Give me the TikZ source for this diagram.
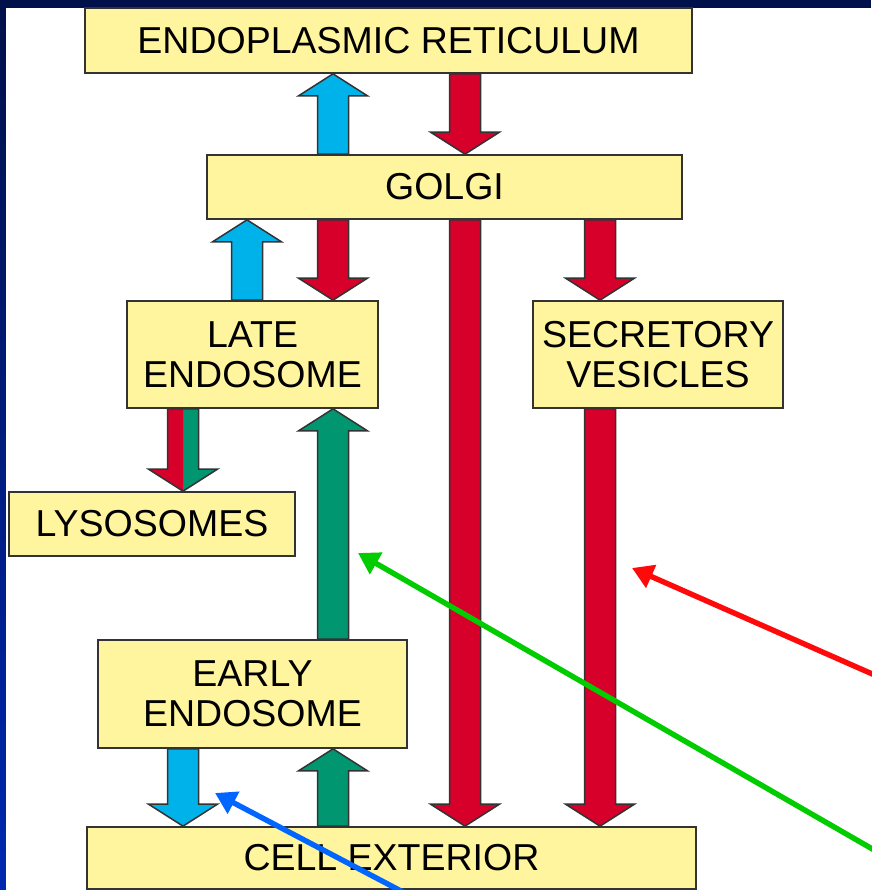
\documentclass[tikz,border=0pt]{standalone}
\usepackage{fontspec}
\setmainfont{Liberation Sans}
\usetikzlibrary{arrows.meta,calc}
\definecolor{navyframe}{HTML}{00104A}
\definecolor{navyblue}{HTML}{0028B0}
\definecolor{boxyellow}{HTML}{FFF59E}
\definecolor{edgegray}{HTML}{333333}
\definecolor{redflow}{HTML}{D6002A}
\definecolor{blueflow}{HTML}{00B2EA}
\definecolor{greenflow}{HTML}{009670}
\definecolor{redptr}{HTML}{FF0A0A}
\definecolor{greenptr}{HTML}{00CC00}
\definecolor{blueptr}{HTML}{0066FF}
% block arrow outline from #1 to #2 (vertical)
\newcommand{\blockpath}[2]{($(#1)+(-15.5,0)$) -- ($(#2)!22pt!(#1)+(-15.5,0)$) -- ($(#2)!22pt!(#1)+(-34.5,0)$) -- (#2) -- ($(#2)!22pt!(#1)+(34.5,0)$) -- ($(#2)!22pt!(#1)+(15.5,0)$) -- ($(#1)+(15.5,0)$) -- cycle}
\tikzset{
  organelle/.style={draw=edgegray, line width=1.7pt, fill=boxyellow, align=center, inner sep=0pt, font=\fontsize{37.5}{40}\selectfont},
  flowline/.style={draw=edgegray, line width=1.5pt, line join=miter},
  redblock/.style={flowline, fill=redflow},
  blueblock/.style={flowline, fill=blueflow},
  greenblock/.style={flowline, fill=greenflow},
  pointer/.style={line width=5.4pt, -{Triangle[length=21pt,width=24pt]}}
}
\begin{document}
\begin{tikzpicture}[x=1pt,y=-1pt]
  \useasboundingbox (0,0) rectangle (871,890);
  \fill[navyframe] (0,0) rectangle (871,890);
  \shade[top color=navyframe, bottom color=navyblue] (0,8) rectangle (6,890);
  \fill[white] (6,8) rectangle (871,890);

  % organelles
  \node[organelle, minimum width=607, minimum height=65] (er) at (388.5,40.5) {ENDOPLASMIC RETICULUM};
  \node[organelle, minimum width=475, minimum height=64] (golgi) at (444.5,187) {GOLGI};
  \node[organelle, minimum width=251, minimum height=107] (late) at (252.5,354.5) {LATE\\ENDOSOME};
  \node[organelle, minimum width=250, minimum height=107] (secretory) at (658,354.5) {SECRETORY\\VESICLES};
  \node[organelle, minimum width=286, minimum height=64] (lyso) at (152,524) {LYSOSOMES};
  \node[organelle, minimum width=309, minimum height=108] (early) at (252.5,694) {EARLY\\ENDOSOME};
  \node[organelle, minimum width=609, minimum height=62] (exterior) at (391.5,858) {CELL EXTERIOR};

  % arrow columns
  \coordinate (colA) at (183,0);
  \coordinate (colB) at (247,0);
  \coordinate (colC) at (333,0);
  \coordinate (colD) at (465,0);
  \coordinate (colE) at (600,0);

  \draw[blueblock] \blockpath{colC |- golgi.north}{colC |- er.south};
  \draw[redblock] \blockpath{colD |- er.south}{colD |- golgi.north};
  \draw[blueblock] \blockpath{colB |- late.north}{colB |- golgi.south};
  \draw[redblock] \blockpath{colC |- golgi.south}{colC |- late.north};
  \draw[redblock] \blockpath{colE |- golgi.south}{colE |- secretory.north};
  \draw[redblock] \blockpath{colD |- golgi.south}{colD |- exterior.north};
  \draw[redblock] \blockpath{colE |- secretory.south}{colE |- exterior.north};
  \draw[greenblock] \blockpath{colC |- early.north}{colC |- late.south};
  \draw[greenblock] \blockpath{colC |- exterior.north}{colC |- early.south};
  \draw[blueblock] \blockpath{colA |- early.south}{colA |- exterior.north};

  % late endosome to lysosomes, half red half green
  \fill[greenflow] \blockpath{colA |- late.south}{colA |- lyso.north};
  \begin{scope}
    \clip (0,400) rectangle (colA |- lyso.north);
    \fill[redflow] \blockpath{colA |- late.south}{colA |- lyso.north};
  \end{scope}
  \draw[flowline] \blockpath{colA |- late.south}{colA |- lyso.north};

  % pointers
  \coordinate (redtail) at (895,684);
  \coordinate (redtip) at (632,568);
  \coordinate (greentail) at (895,862);
  \coordinate (greentip) at (358,553);
  \coordinate (bluetail) at (420,901);
  \coordinate (bluetip) at (215,793);
  \draw[pointer, redptr] (redtail) -- (redtip);
  \draw[pointer, greenptr] (greentail) -- (greentip);
  \draw[pointer, blueptr] (bluetail) -- (bluetip);
\end{tikzpicture}
\end{document}
